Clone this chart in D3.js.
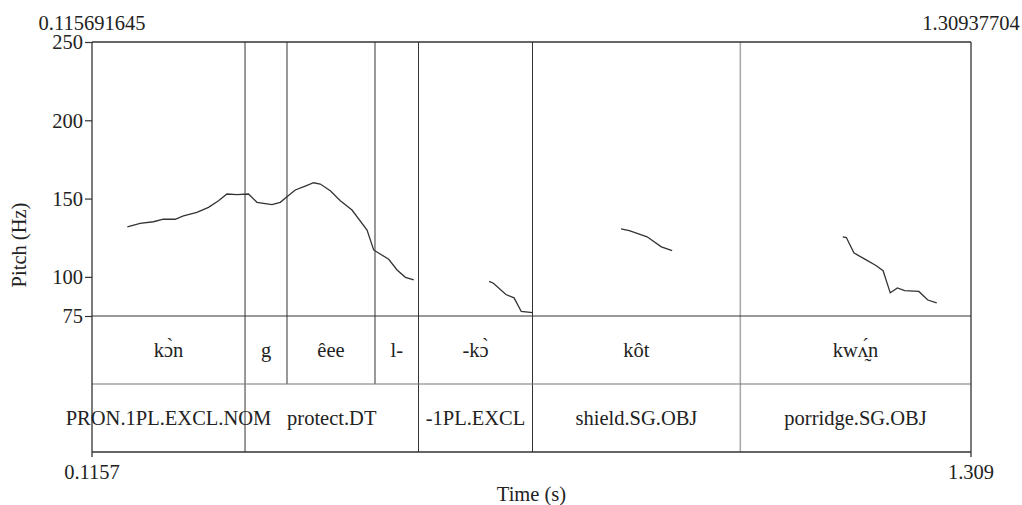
<!DOCTYPE html>
<html><head><meta charset="utf-8">
<script src="https://cdn.jsdelivr.net/npm/d3@7"></script>
<style>
html,body{margin:0;padding:0;background:#fff;}
svg text{font-family:"Liberation Serif","Times New Roman","DejaVu Serif",serif;fill:#222;}
</style></head>
<body><svg id="c" width="1022" height="505"></svg>
<script>
// ---- data ----
const timeStart = 0.115691645;
const timeEnd = 1.30937704;
const timeStartLabel = "0.115691645";
const timeEndLabel = "1.30937704";
const axisStartLabel = "0.1157";
const axisEndLabel = "1.309";
const pitchTicks = [75, 100, 150, 200, 250];
const pitchMin = 75, pitchMax = 250;

const tier1Bounds = [0.1157, 0.3235, 0.3805, 0.5000, 0.5591, 0.7139, 0.9961, 1.309];
const tier1Labels = ["kɔ̀n", "g", "êee", "l-", "-kɔ̀", "kôt", "kwʌ̰́n"];
const tier2Bounds = [0.1157, 0.3235, 0.5591, 0.7139, 0.9961, 1.309];
const tier2Labels = ["PRON.1PL.EXCL.NOM", "protect.DT", "-1PL.EXCL", "shield.SG.OBJ", "porridge.SG.OBJ"];

const seg1Time = [0.1637,0.1810,0.1991,0.2127,0.2286,0.2399,0.2581,0.2739,0.2875,0.2989,0.3125,0.3282,0.3397,0.3601,0.3713,0.3805,0.3917,0.4053,0.4166,0.4257,0.4393,0.4529,0.4688,0.4892,0.4982,0.5186,0.5300,0.5413,0.5526];
const seg1Hz   = [132.0,134.2,135.2,136.8,136.8,138.9,141.2,144.4,148.6,152.9,152.5,152.9,147.6,146.1,147.6,151.2,155.5,158.0,160.1,159.3,155.0,148.6,142.7,129.9,117.2,111.2,104.4,99.7,98.0];
const seg2Time = [0.6550,0.6608,0.6778,0.6889,0.6986,0.7139];
const seg2Hz   = [97.1,95.9,88.7,86.6,77.9,77.2];
const seg3Time = [0.8342,0.8453,0.8695,0.8889,0.9035];
const seg3Hz   = [130.6,129.5,125.6,119.2,116.7];
const seg4Time = [1.1352,1.1401,1.1503,1.1658,1.1803,1.1900,1.1997,1.2094,1.2192,1.2386,1.2507,1.2628];
const seg4Hz   = [125.6,125.1,115.3,111.2,107.3,103.9,89.8,92.9,91.2,90.7,85.2,83.4];

(function () {
const svg = d3.select("#c");
const pL = 92, pR = 971, pT = 42, pitchBottom = 316, tierMid = 384, pB = 452;
const x = d3.scaleLinear().domain([timeStart, timeEnd]).range([pL, pR]);
const y = d3.scaleLinear().domain([pitchMin, pitchMax]).range([pitchBottom, pT]);
const lineCol = "#333";
const fs = 20.5;

tier1Bounds.slice(1, -1).forEach((b, i) => {
  const gray = i === tier1Bounds.length - 3;
  svg.append("line").attr("x1", x(b)).attr("x2", x(b)).attr("y1", pT).attr("y2", tierMid)
    .attr("stroke", gray ? "#aaa" : lineCol).attr("stroke-width", gray ? 1.6 : 1);
});
tier2Bounds.slice(1, -1).forEach((b, i) => {
  const gray = i === tier2Bounds.length - 3;
  svg.append("line").attr("x1", x(b)).attr("x2", x(b)).attr("y1", tierMid).attr("y2", pB)
    .attr("stroke", gray ? "#aaa" : lineCol).attr("stroke-width", gray ? 1.6 : 1);
});

[[pT, lineCol, 1.3], [pitchBottom, lineCol, 1], [tierMid, "#777", 1.2], [pB, lineCol, 1.3]].forEach(([yy, c, w]) => {
  svg.append("line").attr("x1", pL).attr("x2", pR).attr("y1", yy).attr("y2", yy)
    .attr("stroke", c).attr("stroke-width", w);
});
[pL, pR].forEach(xx => {
  svg.append("line").attr("x1", xx).attr("x2", xx).attr("y1", pT).attr("y2", pB + 5)
    .attr("stroke", lineCol).attr("stroke-width", 1.3);
});

const yAxis = d3.axisLeft(y).tickValues(pitchTicks).tickSize(7).tickPadding(2).tickFormat(d3.format("d"));
const ga = svg.append("g").attr("transform", `translate(${pL},0)`).call(yAxis);
ga.select(".domain").remove();
ga.selectAll(".tick line").attr("stroke", lineCol).attr("stroke-width", 1.2);
ga.selectAll(".tick text").attr("font-size", fs).attr("fill", "#222").attr("dy", "0.33em");

const line = d3.line().x(d => x(d[0])).y(d => y(d[1])).curve(d3.curveLinear);
[[seg1Time, seg1Hz], [seg2Time, seg2Hz], [seg3Time, seg3Hz], [seg4Time, seg4Hz]].forEach(([t, h]) => {
  svg.append("path").datum(t.map((v, i) => [v, h[i]])).attr("d", line)
    .attr("fill", "none").attr("stroke", "#333").attr("stroke-width", 1.3);
});

tier1Labels.forEach((l, i) => {
  svg.append("text").attr("x", x((tier1Bounds[i] + tier1Bounds[i + 1]) / 2)).attr("y", 357)
    .attr("text-anchor", "middle").attr("font-size", fs).text(l);
});
tier2Labels.forEach((l, i) => {
  svg.append("text").attr("x", x((tier2Bounds[i] + tier2Bounds[i + 1]) / 2)).attr("y", 425)
    .attr("text-anchor", "middle").attr("font-size", fs).text(l);
});

svg.append("text").attr("x", x(timeStart)).attr("y", 30).attr("text-anchor", "middle").attr("font-size", fs).text(timeStartLabel);
svg.append("text").attr("x", x(timeEnd)).attr("y", 30).attr("text-anchor", "middle").attr("font-size", fs).text(timeEndLabel);
svg.append("text").attr("x", x(timeStart)).attr("y", 479).attr("text-anchor", "middle").attr("font-size", fs).text(axisStartLabel);
svg.append("text").attr("x", x(timeEnd)).attr("y", 479).attr("text-anchor", "middle").attr("font-size", fs).text(axisEndLabel);
svg.append("text").attr("x", (pL + pR) / 2).attr("y", 501).attr("text-anchor", "middle").attr("font-size", fs).text("Time (s)");
svg.append("text").attr("transform", `translate(26,245) rotate(-90)`)
  .attr("text-anchor", "middle").attr("font-size", fs).text("Pitch (Hz)");
})();
</script></body></html>
